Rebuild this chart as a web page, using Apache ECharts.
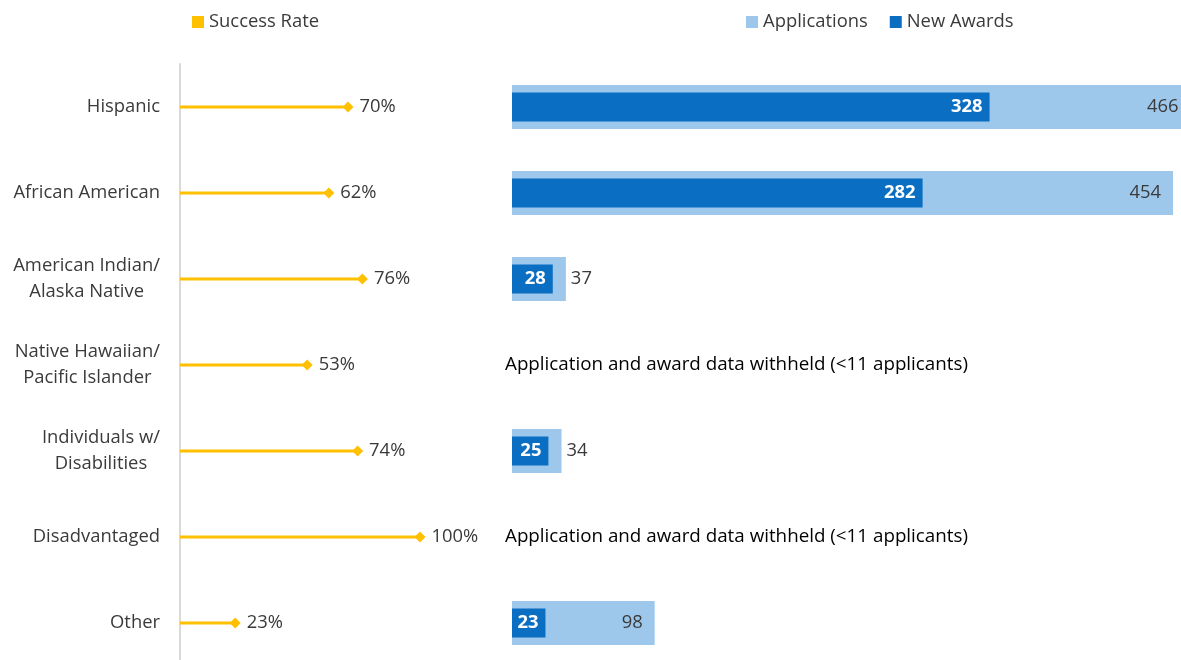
<!DOCTYPE html>
<html>
<head>
<meta charset="utf-8">
<script src="https://cdn.jsdelivr.net/npm/echarts@6/dist/echarts.min.js"></script>
<style>
  html, body { margin: 0; padding: 0; background: #fff; }
  #chart { width: 1181px; height: 660px; }
</style>
</head>
<body>
<div id="chart"></div>
<script>
var categories = [
  'Hispanic',
  'African American',
  'American Indian/\nAlaska Native',
  'Native Hawaiian/\nPacific Islander',
  'Individuals w/\nDisabilities',
  'Disadvantaged',
  'Other'
];
var successRate = [70, 62, 76, 53, 74, 100, 23];
var applications = [466, 454, 37, null, 34, null, 98];
var newAwards = [328, 282, 28, null, 25, null, 23];
var withheldNote = 'Application and award data withheld (<11 applicants)';
var notes = ['', '', '', withheldNote, '', withheldNote, ''];

(function() {
  var gold = '#FFC000';
  var lightBlue = '#9DC8EC';
  var darkBlue = '#0A6FC2';
  var ink = '#3a3a3a';
  var font = 'Open Sans';
  var fs = 18.4;

  var chart = echarts.init(document.getElementById('chart'), null, { renderer: 'canvas' });

  // centred lines inside a right-aligned block, like the spreadsheet labels
  function catLabel(v) {
    return v.split('\n').map(function(s) { return '{c|' + s + '}'; }).join('\n');
  }

  var appData = applications.map(function(v) {
    if (v == null) return null;
    return {
      value: v,
      label: { position: v > 60 ? 'insideRight' : 'right', distance: v > 60 ? 12 : 5 }
    };
  });

  var noteData = notes.map(function(n, i) {
    return n ? { value: [0, i], label: { formatter: n } } : null;
  });

  chart.setOption({
    animation: false,
    textStyle: { fontFamily: font },
    legend: [
      {
        left: 187, top: 8,
        itemWidth: 12, itemHeight: 12, itemGap: 20,
        icon: 'rect',
        textStyle: { fontSize: fs, color: ink, fontFamily: font },
        data: ['Success Rate']
      },
      {
        left: 741, top: 8,
        itemWidth: 12, itemHeight: 12, itemGap: 22,
        icon: 'rect',
        textStyle: { fontSize: fs, color: ink, fontFamily: font },
        data: ['Applications', 'New Awards']
      }
    ],
    grid: [
      { left: 180, top: 64, width: 240, height: 602, outerBoundsMode: 'none' },
      { left: 512, top: 64, width: 728, height: 602, outerBoundsMode: 'none' }
    ],
    xAxis: [
      { gridIndex: 0, type: 'value', min: 0, max: 100, show: false },
      { gridIndex: 1, type: 'value', min: 0, max: 500, show: false }
    ],
    yAxis: [
      {
        gridIndex: 0, type: 'category', inverse: true, data: categories,
        axisLine: { show: true, lineStyle: { color: '#D9D9D9', width: 2 } },
        axisTick: { show: false },
        splitLine: { show: false },
        axisLabel: {
          margin: 20, align: 'right', fontSize: fs, color: ink,
          formatter: catLabel,
          rich: { c: { align: 'center', fontSize: fs, color: ink, lineHeight: 26, fontFamily: font } }
        }
      },
      { gridIndex: 1, type: 'category', inverse: true, data: categories, show: false },
      { gridIndex: 1, type: 'category', inverse: true, data: categories, show: false }
    ],
    series: [
      {
        name: 'Success Rate',
        type: 'bar',
        xAxisIndex: 0, yAxisIndex: 0,
        barWidth: 3,
        itemStyle: { color: gold },
        data: successRate,
        z: 2
      },
      {
        name: 'Success Rate',
        type: 'scatter',
        xAxisIndex: 0, yAxisIndex: 0,
        symbol: 'diamond',
        symbolSize: 11,
        itemStyle: { color: gold, opacity: 1 },
        label: {
          show: true, position: 'right', distance: 6,
          fontSize: fs, color: ink, fontFamily: font,
          formatter: function(p) { return p.value + '%'; }
        },
        data: successRate,
        z: 3
      },
      {
        name: 'Applications',
        type: 'bar',
        xAxisIndex: 1, yAxisIndex: 1,
        barWidth: 44,
        clip: false,
        itemStyle: { color: lightBlue },
        label: { show: true, fontSize: fs, color: ink, fontFamily: font },
        data: appData
      },
      {
        name: 'New Awards',
        type: 'bar',
        xAxisIndex: 1, yAxisIndex: 2,
        barWidth: 29,
        clip: false,
        itemStyle: { color: darkBlue },
        label: {
          show: true, position: 'insideRight', distance: 7,
          fontSize: fs, fontWeight: 'bold', color: '#fff', fontFamily: font
        },
        data: newAwards,
        z: 3
      },
      {
        name: 'note',
        type: 'scatter',
        xAxisIndex: 1, yAxisIndex: 1,
        symbolSize: 0,
        silent: true,
        itemStyle: { opacity: 1 },
        label: {
          show: true, position: 'right', distance: -7,
          fontSize: 18.8, color: '#000', fontFamily: font
        },
        data: noteData
      }
    ]
  });

  window.addEventListener('resize', function() { chart.resize(); });
})();
</script>
</body>
</html>
